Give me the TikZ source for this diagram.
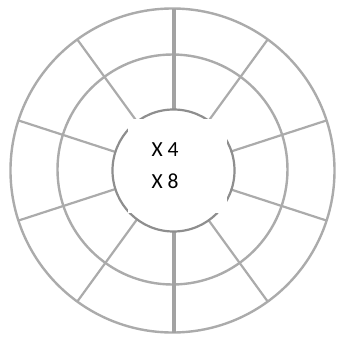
\documentclass[tikz,border=0pt]{standalone}
\usepackage{fontspec}
\setmainfont{Carlito}
\usepackage{xcolor}
\definecolor{ringgray}{HTML}{ABABAB}
\definecolor{coregray}{HTML}{8E8E8E}
\definecolor{axisgray}{HTML}{A2A2A2}

\begin{document}
\begin{tikzpicture}[x=1pt, y=1pt,
  ring/.style={ringgray, line width=2.4pt},
  spoke/.style={ringgray, line width=2.2pt},
  every node/.style={font=\fontsize{21.5}{24}\selectfont, inner sep=0pt}]

% Canvas: 337 x 338, centre of the rings at the origin
\useasboundingbox (-172.5,-167.5) rectangle (164.5,170.5);

% --- Rings ---
\draw[ring] (0,0) circle (162);
\draw[ring] (0,1) circle (115);

% --- Spokes from outer ring to core, every 36 degrees ---
\draw[spoke] (126:162) -- (126:61);
\draw[spoke] ( 54:162) -- ( 54:61);
\draw[spoke] ( 18:162) -- ( 18:61);
\draw[spoke] (-18:162) -- (-18:61);
\draw[spoke] (-54:162) -- (-54:61);
\draw[spoke] (234:162) -- (234:61);
\draw[spoke] (198:162) -- (198:61);
\draw[spoke] (162:162) -- (162:61);

% --- Vertical axis (heavier) ---
\draw[axisgray, line width=3.4pt] (1.5,162) -- (1.5,61);
\draw[axisgray, line width=3.4pt] (1.5,-61) -- (1.5,-162);

% --- Core ring ---
\draw[coregray, line width=2.2pt] (1,0) circle (61);

% --- Text box covering the core ---
\fill[white] (-44.5,51.5) rectangle (54.5,-42.5);
\node[anchor=base west] (x4) at (-21,14) {X 4};
\node[anchor=base west] (x8) at (-21,-18) {X 8};

\end{tikzpicture}
\end{document}
